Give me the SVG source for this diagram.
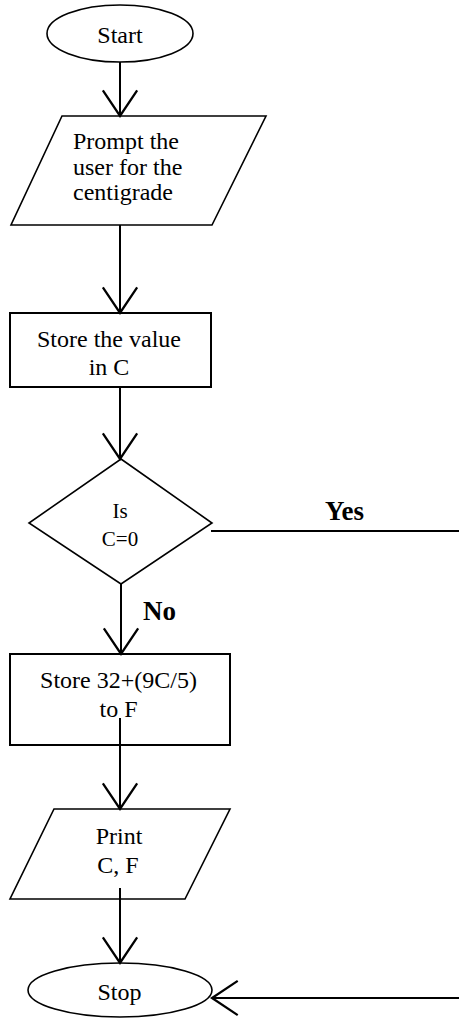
<svg xmlns="http://www.w3.org/2000/svg" width="459" height="1018" viewBox="0 0 459 1018">
<defs>
<style>
.shape{fill:#fff;stroke:#000;stroke-width:1.6}
.box{fill:#fff;stroke:#000;stroke-width:2}
.t{font-family:"Liberation Serif","Times New Roman",serif;font-size:24px;fill:#000}
.tc{text-anchor:middle}
.lbl{font-family:"Liberation Serif","Times New Roman",serif;font-size:27px;font-weight:bold;fill:#000}
.conn line,.conn path{stroke:#000;stroke-width:2;fill:none}
</style>
<marker id="arr" markerUnits="userSpaceOnUse" markerWidth="40" markerHeight="40" viewBox="-20 -14 22 28" refX="0" refY="0" orient="auto">
<path d="M-18,-12 L0,0 L-18,12" fill="none" stroke="#000" stroke-width="1.6"/>
</marker>
</defs>
<rect width="459" height="1018" fill="#fff"/>
<g id="start">
<ellipse class="shape" cx="120" cy="33.5" rx="73" ry="28.5"/>
<text class="t tc" x="120" y="43">Start</text>
</g>
<g id="prompt">
<polygon class="shape" points="62,116 266,116 212,225 11,225"/>
<text class="t" x="73" y="149">Prompt the</text>
<text class="t" x="73" y="175">user for the</text>
<text class="t" x="73" y="200">centigrade</text>
</g>
<g id="store-c">
<rect class="box" x="10" y="313" width="201" height="74"/>
<text class="t tc" x="109" y="347">Store the value</text>
<text class="t tc" x="109" y="375">in C</text>
</g>
<g id="decision">
<polygon class="shape" points="121,459 212,523 121,584 29,523"/>
<text class="t tc" x="120" y="518" style="font-size:21px">Is</text>
<text class="t tc" x="120" y="546" style="font-size:21px">C=0</text>
</g>
<g id="store-f">
<rect class="box" x="10" y="654" width="220" height="91"/>
<text class="t tc" x="118.5" y="688">Store 32+(9C/5)</text>
<text class="t tc" x="118.5" y="717">to F</text>
</g>
<g id="print">
<polygon class="shape" points="54,809 230,809 185,899 10,899"/>
<text class="t tc" x="119" y="844">Print</text>
<text class="t tc" x="118" y="873">C, F</text>
</g>
<g id="stop">
<ellipse class="shape" cx="120" cy="990" rx="92" ry="27"/>
<text class="t tc" x="119.5" y="1000">Stop</text>
</g>
<g id="connectors" class="conn">
<line x1="120" y1="62" x2="120" y2="116" marker-end="url(#arr)"/>
<line x1="120" y1="225" x2="120" y2="313" marker-end="url(#arr)"/>
<line x1="120" y1="387" x2="120" y2="459" marker-end="url(#arr)"/>
<line x1="121" y1="584" x2="121" y2="654" marker-end="url(#arr)"/>
<line x1="120" y1="718" x2="120" y2="809" marker-end="url(#arr)"/>
<line x1="120" y1="888" x2="120" y2="963" marker-end="url(#arr)"/>
<line x1="211" y1="531" x2="459" y2="531"/>
<line x1="459" y1="998" x2="212" y2="998" marker-end="url(#arr)"/>
</g>
<text class="lbl" x="325" y="520">Yes</text>
<text class="lbl" x="143" y="620">No</text>
</svg>
